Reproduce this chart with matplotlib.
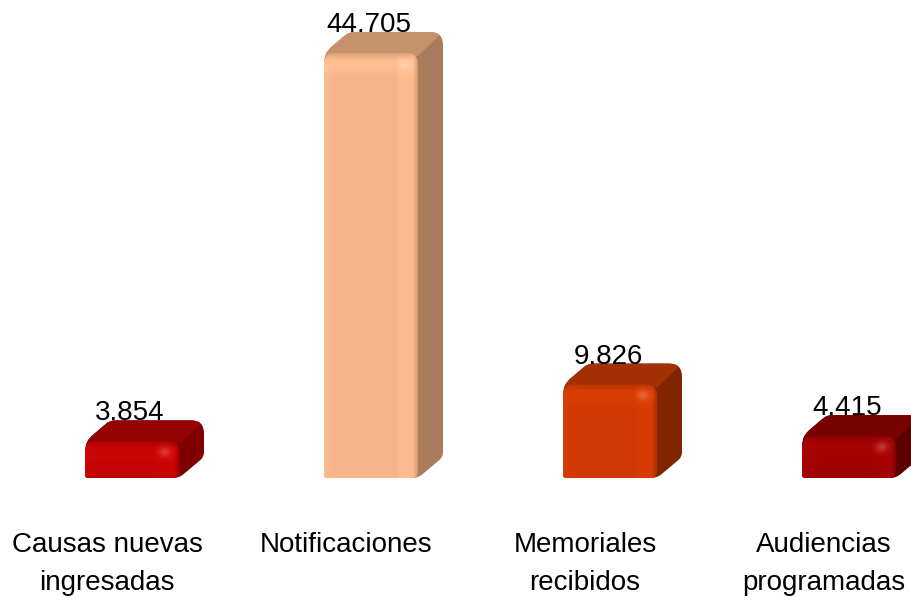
import numpy as np
import matplotlib
matplotlib.use("Agg")
import matplotlib.pyplot as plt
from matplotlib.patches import PathPatch
from matplotlib.path import Path
from matplotlib.colors import to_rgb

categories = ["Causas nuevas\ningresadas", "Notificaciones", "Memoriales\nrecibidos", "Audiencias\nprogramadas"]
values = [3854, 44705, 9826, 4415]
value_labels = ["3.854", "44.705", "9.826", "4.415"]
front_colors = ["#C20404", "#F5B58A", "#CF3A02", "#A00303"]
top_colors = ["#960202", "#C6926B", "#A33002", "#780202"]
side_colors = ["#800000", "#A87C5C", "#802500", "#5E0000"]

plt.rcParams["font.family"] = ["Liberation Sans"]

W, H = 911, 600
BASE_Y = 478        # pixel row of the baseline
STEP = 239          # pixels between bars
X0 = 132            # pixel column of first bar
PX_X = 1 / STEP
PX_Y = 44705 / 425
BAR_W = 94
DX, DY = 25, 21


def rounded(points, r):
    # closed polygon with rounded corners, points in pixels from the axes origin
    pts = np.array(points, float)
    n = len(pts)
    verts, codes = [], []
    for i in range(n):
        p, a, b = pts[i], pts[i - 1], pts[(i + 1) % n]
        u = (a - p) / np.hypot(*(a - p))
        v = (b - p) / np.hypot(*(b - p))
        verts.append(p + u * r[i])
        codes.append(Path.MOVETO if i == 0 else Path.LINETO)
        verts += [p, p + v * r[i]]
        codes += [Path.CURVE3, Path.CURVE3]
    verts.append(verts[0])
    codes.append(Path.CLOSEPOLY)
    return Path(np.array(verts) * [PX_X, PX_Y], codes)


def front_shade(w, h, color, top_color, side_color):
    xx, yy = np.meshgrid(np.arange(w) + 0.5, np.arange(h) + 0.5)
    f = np.ones((h, w))
    # lighter band under the top edge
    f += 0.05 * np.exp(-((yy - 12) / 8.0) ** 2)
    # lighter strip at the right, where the bevel is
    f += 0.03 * np.clip((xx - w * 0.76) / 4.0, 0, 1)
    # left edge bevel
    f += 0.04 * np.exp(-xx / 5.0)
    rgb = np.array(to_rgb(color))[None, None, :] * f[..., None]
    # soft blend into the top face and the side face
    a_top = np.clip(1 - yy / 7.0, 0, 1)[..., None]
    rgb = rgb * (1 - a_top) + (0.5 * np.array(to_rgb(top_color)) + 0.5 * np.array(to_rgb(color))) * a_top
    a_side = np.clip(1 - (w - xx) / 5.0, 0, 1)[..., None]
    rgb = rgb * (1 - a_side) + (0.5 * np.array(to_rgb(side_color)) + 0.5 * np.array(to_rgb(color))) * a_side
    # corner glint
    glint = 0.2 * np.exp(-(((xx - (w - 14)) / 6.0) ** 2 + ((yy - 11) / 5.0) ** 2))
    rgb = rgb + (1 - rgb) * glint[..., None]
    return np.clip(rgb, 0, 1)


fig = plt.figure(figsize=(W / 100, H / 100), dpi=100)
ax = fig.add_axes([0, 0, 1, 1])

for i, v in enumerate(values):
    x = i * STEP
    h = v / PX_Y
    left = x - BAR_W / 2
    right = x + BAR_W / 2
    r = min(10, h * 0.4)

    # whole silhouette in the side colour, then the top face clipped to it
    hull = [(left, 0), (right, 0), (right + DX, DY), (right + DX, h + DY), (left + DX, h + DY), (left, h)]
    sil = PathPatch(rounded(hull, [3, 6, 5, 13, 5, r]), fc=side_colors[i], ec="none")
    ax.add_patch(sil)
    top = [(left - 2, h - 3), (left + DX, h + DY + 1), (right + DX + 1, h + DY + 1), (right, h - 3)]
    face = PathPatch(Path(np.array(top + top[:1]) * [PX_X, PX_Y], closed=True), fc=top_colors[i], ec="none")
    ax.add_patch(face)
    face.set_clip_path(sil)

    # front face with shading, clipped to a rounded box
    box = [(left, 0), (right, 0), (right, h), (left, h)]
    clip = PathPatch(rounded(box, [3, 6, r, r]), fc="none", ec="none")
    ax.add_patch(clip)
    img = ax.imshow(front_shade(BAR_W, max(int(round(h)), 2), front_colors[i], top_colors[i], side_colors[i]),
                    aspect="auto", extent=[left * PX_X, right * PX_X, 0, v], interpolation="bilinear", zorder=2)
    img.set_clip_path(clip)

    ax.text((x - 2) * PX_X, v + DY * PX_Y, value_labels[i], ha="center", va="baseline",
            fontsize=20, color="black")
    ax.text((x - 25) * PX_X, -54 * PX_Y, categories[i], ha="center", va="top",
            fontsize=20, color="black", linespacing=1.6)

ax.set_xlim(-X0 * PX_X, (W - X0) * PX_X)
ax.set_ylim(-(H - BASE_Y) * PX_Y, BASE_Y * PX_Y)
ax.axis("off")

fig.savefig("out.png", dpi=100)
